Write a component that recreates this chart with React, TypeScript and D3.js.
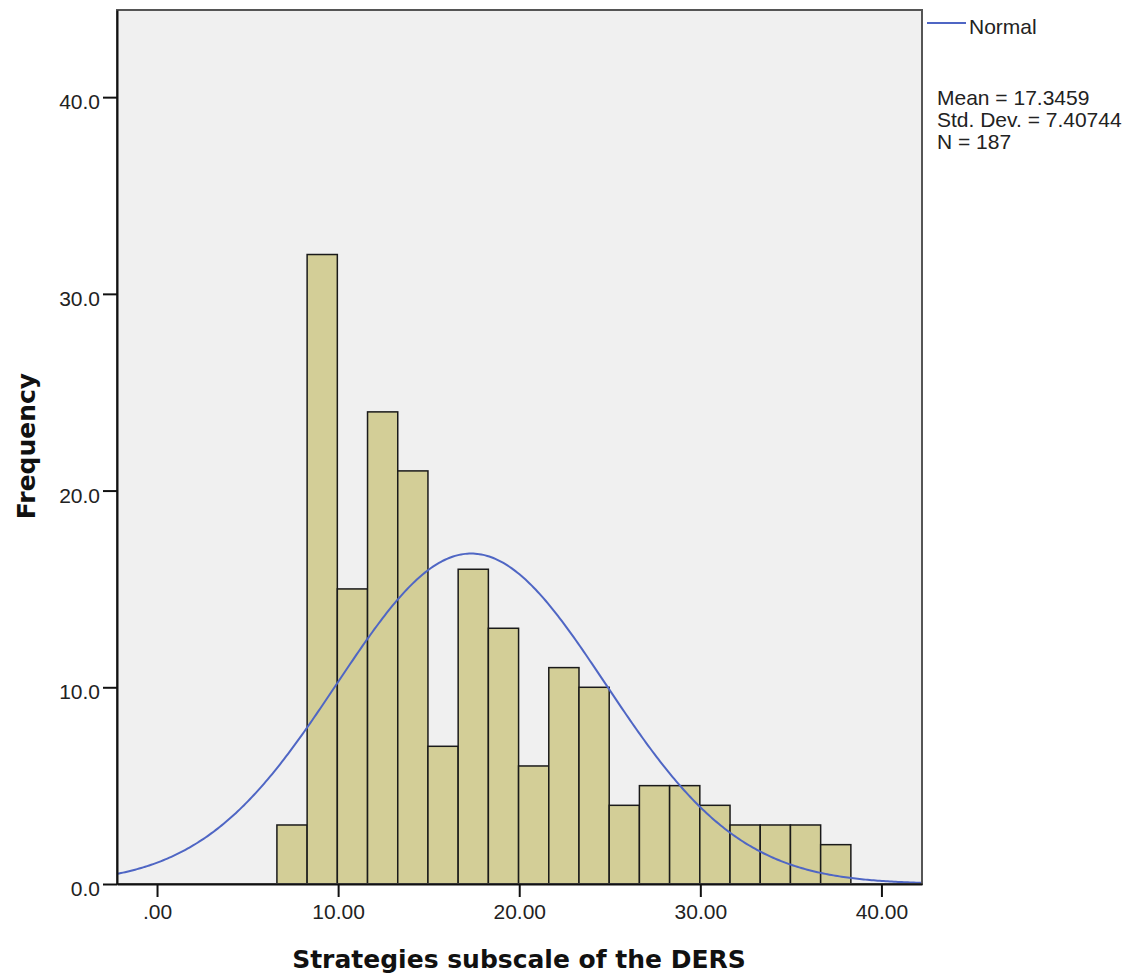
import * as d3 from 'd3';
import { useEffect, useRef } from 'react';

// histogram bins (equal width)
const binStart = 6.62;
const binWidth = 1.668;
const binCounts = [3, 32, 15, 24, 21, 7, 16, 13, 6, 11, 10, 4, 5, 5, 4, 3, 3, 3, 2];

const xTicks = [0, 10, 20, 30, 40];
const yTicks = [0, 10, 20, 30, 40];

const mean = 17.3459;
const stdDev = 7.40744;
const n = 187;
const statsLines = ['Mean = 17.3459', 'Std. Dev. = 7.40744', 'N = 187'];

function App() {
    const ref = useRef<SVGSVGElement>(null);

    useEffect(() => {
        const W = 1144;
        const H = 978;
        const plot = { left: 117, right: 922, top: 10, bottom: 884 };

        const svg = d3.select(ref.current);
        svg.selectAll('*').remove();
        svg.attr('width', W).attr('height', H);

        const x = d3.scaleLinear().domain([-2.21, 42.24]).range([plot.left, plot.right]);
        const y = d3.scaleLinear().domain([0, 44.43]).range([plot.bottom, plot.top]);

        svg.append('defs').append('clipPath').attr('id', 'plotClip')
            .append('rect')
            .attr('x', plot.left).attr('y', plot.top)
            .attr('width', plot.right - plot.left).attr('height', plot.bottom - plot.top);

        // plot background
        svg.append('rect')
            .attr('x', plot.left).attr('y', plot.top)
            .attr('width', plot.right - plot.left).attr('height', plot.bottom - plot.top)
            .attr('fill', '#f0f0f0');

        // bars
        const bins = binCounts.map((c, i) => ({ x0: binStart + i * binWidth, x1: binStart + (i + 1) * binWidth, count: c }));
        svg.append('g').selectAll('rect')
            .data(bins)
            .enter()
            .append('rect')
            .attr('x', d => x(d.x0))
            .attr('y', d => y(d.count))
            .attr('width', d => x(d.x1) - x(d.x0))
            .attr('height', d => y(0) - y(d.count))
            .attr('fill', '#d3ce97')
            .attr('stroke', '#1a1a1a')
            .attr('stroke-width', 1.5);

        // normal curve scaled to counts
        const [d0, d1] = x.domain();
        const pts = d3.range(0, 401).map(i => {
            const v = d0 + (d1 - d0) * i / 400;
            const z = (v - mean) / stdDev;
            return [v, n * binWidth * Math.exp(-0.5 * z * z) / (stdDev * Math.sqrt(2 * Math.PI))];
        });
        svg.append('path')
            .datum(pts)
            .attr('clip-path', 'url(#plotClip)')
            .attr('fill', 'none')
            .attr('stroke', '#4f66c4')
            .attr('stroke-width', 2)
            .attr('d', d3.line<number[]>().x(d => x(d[0])).y(d => y(d[1])));

        // frame
        svg.append('rect')
            .attr('x', plot.left).attr('y', plot.top)
            .attr('width', plot.right - plot.left).attr('height', plot.bottom - plot.top)
            .attr('fill', 'none')
            .attr('stroke', '#555')
            .attr('stroke-width', 2);

        // axes
        const xAxis = svg.append('g')
            .attr('transform', `translate(0,${plot.bottom})`)
            .call(d3.axisBottom(x).tickValues(xTicks).tickSize(13).tickSizeOuter(0).tickPadding(7)
                .tickFormat(d => (+d === 0 ? '.00' : (+d).toFixed(2))));
        const yAxis = svg.append('g')
            .attr('transform', `translate(${plot.left},0)`)
            .call(d3.axisLeft(y).tickValues(yTicks).tickSize(14).tickSizeOuter(0).tickPadding(3)
                .tickFormat(d => (+d).toFixed(1)));

        [xAxis, yAxis].forEach(a => {
            a.select('.domain').attr('stroke', '#111').attr('stroke-width', 2);
            a.selectAll('.tick line').attr('stroke', '#111').attr('stroke-width', 2);
            a.selectAll('.tick text')
                .attr('fill', '#222')
                .style('font-family', '"Liberation Sans", Arial, sans-serif')
                .style('font-size', '21px');
        });
        yAxis.selectAll('.tick text').attr('dy', '0.55em').attr('y', 0);
        xAxis.selectAll('.tick text').attr('dy', '0.71em');

        // axis titles
        svg.append('text')
            .attr('x', 519).attr('y', 968)
            .attr('text-anchor', 'middle')
            .style('font-family', '"DejaVu Sans", sans-serif')
            .style('font-weight', 'bold')
            .style('font-size', '25px')
            .attr('fill', '#111')
            .text('Strategies subscale of the DERS');

        svg.append('text')
            .attr('transform', 'translate(35,446) rotate(-90)')
            .attr('text-anchor', 'middle')
            .style('font-family', '"DejaVu Sans", sans-serif')
            .style('font-weight', 'bold')
            .style('font-size', '25px')
            .attr('fill', '#111')
            .text('Frequency');

        // legend
        svg.append('line')
            .attr('x1', 927).attr('x2', 966).attr('y1', 23).attr('y2', 23)
            .attr('stroke', '#4f66c4').attr('stroke-width', 2);
        svg.append('text')
            .attr('x', 969).attr('y', 34)
            .style('font-family', '"Liberation Sans", Arial, sans-serif')
            .style('font-size', '21px')
            .attr('fill', '#222')
            .text('Normal');

        svg.append('g').selectAll('text')
            .data(statsLines)
            .enter()
            .append('text')
            .attr('x', 937)
            .attr('y', (_, i) => 105 + i * 22)
            .style('font-family', '"Liberation Sans", Arial, sans-serif')
            .style('font-size', '21px')
            .attr('fill', '#222')
            .text(d => d);
    }, []);

    return (
        <svg ref={ref} style={{ position: 'absolute', left: 0, top: 0, background: '#fff' }} />
    );
}

export default App;
